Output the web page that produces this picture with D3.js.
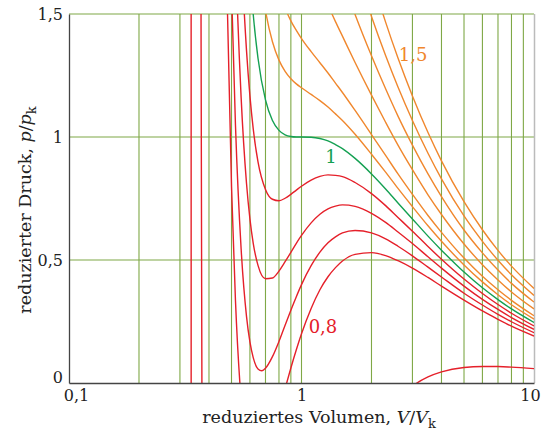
<!DOCTYPE html>
<html>
<head>
<meta charset="utf-8">
<script src="https://cdn.jsdelivr.net/npm/d3@7"></script>
<style>
  body { margin: 0; background: #fff; }
  text { font-family: "DejaVu Serif", serif; fill: #222; }
</style>
</head>
<body>
<div id="chart"></div>
<script>
// van-der-Waals isotherms: [V/Vk, p/pk]
const iso002 = [[0.33520, 1.6], [0.33531, 0], [0.33540, -0.2]]
const iso032a = [[0.368, 2.46], [0.370, 1.36], [0.372, 0.39], [0.375, -0.85]]
const iso032b = [[2.6, -0.068], [3.0, -0.013], [3.5, 0.0245], [4, 0.045], [5, 0.063], [6, 0.067], [7, 0.0668], [8, 0.0644], [10, 0.0583]]
const iso080 = [[0.46, 2.664], [0.48, 1.524], [0.50, 0.8], [0.52, 0.334], [0.55, -0.071], [0.58, -0.269], [0.60, -0.333], [0.62, -0.362], [0.65, -0.364], [0.70, -0.304], [0.75, -0.213], [0.80, -0.116], [0.85, -0.023], [0.90, 0.061], [0.95, 0.135], [1.0, 0.2], [1.1, 0.303], [1.2, 0.379], [1.3, 0.432], [1.4, 0.469], [1.5, 0.496], [1.7, 0.523], [2.0, 0.53], [2.3, 0.518], [2.6, 0.497], [3.0, 0.467], [3.5, 0.429], [4, 0.394], [5, 0.337], [6, 0.293], [7, 0.259], [8, 0.231], [10, 0.191]]
const iso085 = [[0.48, 2.434], [0.50, 1.6], [0.52, 1.048], [0.55, 0.545], [0.58, 0.271], [0.60, 0.167], [0.62, 0.103], [0.65, 0.057], [0.675, 0.050], [0.70, 0.060], [0.75, 0.107], [0.80, 0.169], [0.85, 0.235], [0.90, 0.296], [0.95, 0.351], [1.0, 0.4], [1.1, 0.477], [1.2, 0.532], [1.3, 0.570], [1.4, 0.594], [1.5, 0.610], [1.7, 0.620], [2.0, 0.61], [2.3, 0.586], [2.6, 0.556], [3.0, 0.517], [3.5, 0.471], [4, 0.431], [5, 0.365], [6, 0.317], [7, 0.279], [8, 0.249], [10, 0.2045]]
const iso090 = [[0.50, 2.4], [0.52, 1.762], [0.55, 1.160], [0.58, 0.812], [0.60, 0.667], [0.62, 0.568], [0.65, 0.478], [0.70, 0.424], [0.75, 0.427], [0.80, 0.455], [0.85, 0.493], [0.90, 0.531], [0.95, 0.568], [1.0, 0.6], [1.1, 0.651], [1.2, 0.686], [1.3, 0.708], [1.4, 0.719], [1.5, 0.724], [1.7, 0.718], [2.0, 0.69], [2.3, 0.653], [2.6, 0.614], [3.0, 0.567], [3.5, 0.513], [4, 0.467], [5, 0.394], [6, 0.340], [7, 0.299], [8, 0.266], [10, 0.218]]
const iso095 = [[0.52, 2.476], [0.55, 1.775], [0.58, 1.352], [0.60, 1.167], [0.62, 1.033], [0.65, 0.899], [0.70, 0.787], [0.75, 0.747], [0.80, 0.741], [0.85, 0.751], [0.90, 0.767], [0.95, 0.784], [1.0, 0.8], [1.1, 0.825], [1.2, 0.840], [1.3, 0.846], [1.4, 0.844], [1.5, 0.839], [1.7, 0.815], [2.0, 0.77], [2.3, 0.721], [2.6, 0.673], [3.0, 0.617], [3.5, 0.555], [4, 0.503], [5, 0.4225], [6, 0.364], [7, 0.319], [8, 0.2835], [10, 0.232]]
const iso100 = [[0.55, 2.391], [0.58, 1.893], [0.60, 1.667], [0.62, 1.498], [0.65, 1.320], [0.70, 1.151], [0.75, 1.067], [0.80, 1.027], [0.85, 1.009], [0.90, 1.002], [0.95, 1.000], [1.0, 1.000], [1.1, 0.999], [1.2, 0.994], [1.3, 0.984], [1.4, 0.969], [1.5, 0.953], [1.7, 0.913], [2.0, 0.85], [2.3, 0.789], [2.6, 0.732], [3.0, 0.667], [3.5, 0.597], [4, 0.540], [5, 0.451], [6, 0.387], [7, 0.339], [8, 0.301], [10, 0.246]]
const iso105 = [[0.65, 1.741], [0.70, 1.514], [0.75, 1.387], [0.80, 1.3125], [0.85, 1.267], [0.90, 1.237], [0.95, 1.216], [1.0, 1.2], [1.1, 1.173], [1.2, 1.148], [1.3, 1.122], [1.4, 1.094], [1.5, 1.067], [1.7, 1.011], [2.0, 0.93], [2.3, 0.857], [2.6, 0.791], [3.0, 0.717], [3.5, 0.639], [4, 0.576], [5, 0.480], [6, 0.411], [7, 0.359], [8, 0.318], [10, 0.260]]
const iso110 = [[0.75, 1.707], [0.80, 1.598], [0.85, 1.525], [0.90, 1.472], [0.95, 1.433], [1.0, 1.4], [1.1, 1.347], [1.2, 1.302], [1.3, 1.260], [1.4, 1.219], [1.5, 1.181], [1.7, 1.108], [2.0, 1.01], [2.3, 0.925], [2.6, 0.850], [3.0, 0.767], [3.5, 0.681], [4, 0.6125], [5, 0.508], [6, 0.434], [7, 0.379], [8, 0.336], [10, 0.2735]]
const iso120 = [[1.1, 1.695], [1.2, 1.609], [1.3, 1.536], [1.4, 1.469], [1.5, 1.410], [1.7, 1.303], [2.0, 1.17], [2.3, 1.060], [2.6, 0.967], [3.0, 0.867], [3.5, 0.765], [4, 0.685], [5, 0.565], [6, 0.481], [7, 0.419], [8, 0.370], [10, 0.301]]
const iso130 = [[1.4, 1.719], [1.5, 1.639], [1.7, 1.498], [2.0, 1.33], [2.3, 1.196], [2.6, 1.085], [3.0, 0.967], [3.5, 0.850], [4, 0.758], [5, 0.622], [6, 0.529], [7, 0.459], [8, 0.405], [10, 0.329]]
const iso140 = [[1.7, 1.693], [2.0, 1.49], [2.3, 1.331], [2.6, 1.203], [3.0, 1.067], [3.5, 0.934], [4, 0.830], [5, 0.679], [6, 0.576], [7, 0.499], [8, 0.440], [10, 0.356]]
const iso150 = [[2.0, 1.65], [2.3, 1.467], [2.6, 1.321], [3.0, 1.167], [3.5, 1.018], [4, 0.903], [5, 0.737], [6, 0.623], [7, 0.539], [8, 0.475], [10, 0.384]]

// ticks and grid
const xTicks = [0.1, 1, 10]
const xTickLabels = ["0,1", "1", "10"]
const yTicks = [0, 0.5, 1, 1.5]
const yTickLabels = ["0", "0,5", "1", "1,5"]
const xGrid = [0.2, 0.3, 0.4, 0.5, 0.6, 0.7, 0.8, 0.9, 1, 2, 3, 4, 5, 6, 7, 8, 9]
const yGrid = [0.5, 1, 1.5]

// curve labels (position = baseline centre)
const curveLabels = [
  {text: "1,5", v: 3.02, p: 1.31, kind: "hot"},
  {text: "1", v: 1.34, p: 0.894, kind: "crit"},
  {text: "0,8", v: 1.237, p: 0.203, kind: "cold"}
]

const colors = {cold: "#e5202a", crit: "#14a052", hot: "#f0872d"}

const series = [
  {pts: iso002, kind: "cold"}, {pts: iso032a, kind: "cold"}, {pts: iso032b, kind: "cold"},
  {pts: iso080, kind: "cold"}, {pts: iso085, kind: "cold"}, {pts: iso090, kind: "cold"},
  {pts: iso095, kind: "cold"}, {pts: iso105, kind: "hot"}, {pts: iso110, kind: "hot"},
  {pts: iso120, kind: "hot"}, {pts: iso130, kind: "hot"}, {pts: iso140, kind: "hot"},
  {pts: iso150, kind: "hot"}, {pts: iso100, kind: "crit"}
]

// dimensions
const width = 541, height = 432
const plot = {left: 69, right: 534, top: 14, bottom: 383}

const x = d3.scaleLog().domain([0.1, 10]).range([plot.left, plot.right])
const y = d3.scaleLinear().domain([0, 1.5]).range([plot.bottom, plot.top])

const svg = d3.select("#chart").append("svg")
  .attr("width", width)
  .attr("height", height)

svg.append("defs").append("clipPath").attr("id", "plotClip")
  .append("rect")
  .attr("x", plot.left).attr("y", plot.top)
  .attr("width", plot.right - plot.left).attr("height", plot.bottom - plot.top)

// grid
const gridColor = "#7fa846"
svg.append("g").selectAll("line")
  .data(xGrid)
  .join("line")
  .attr("x1", d => x(d)).attr("x2", d => x(d))
  .attr("y1", plot.top).attr("y2", plot.bottom)
  .attr("stroke", gridColor)
  .attr("stroke-width", 1.1)

svg.append("g").selectAll("line")
  .data(yGrid)
  .join("line")
  .attr("x1", plot.left).attr("x2", plot.right)
  .attr("y1", d => y(d)).attr("y2", d => y(d))
  .attr("stroke", gridColor)
  .attr("stroke-width", 1.1)

// right border
svg.append("line")
  .attr("x1", plot.right + 0.5).attr("x2", plot.right + 0.5)
  .attr("y1", plot.top).attr("y2", plot.bottom)
  .attr("stroke", "#bbbbbb")
  .attr("stroke-width", 1.5)

// isotherms
const line = d3.line()
  .x(d => x(d[0]))
  .y(d => y(d[1]))
  .curve(d3.curveMonotoneX)

svg.append("g")
  .attr("clip-path", "url(#plotClip)")
  .selectAll("path")
  .data(series)
  .join("path")
  .attr("d", d => line(d.pts))
  .attr("fill", "none")
  .attr("stroke", d => colors[d.kind])
  .attr("stroke-width", 1.4)

// axes (no tick marks, just domain + labels)
const xAxis = d3.axisBottom(x)
  .tickValues(xTicks)
  .tickSize(0)
  .tickPadding(7)
  .tickFormat((d, i) => xTickLabels[i])

svg.append("g")
  .attr("transform", `translate(0, ${plot.bottom})`)
  .call(xAxis)
  .call(g => g.select(".domain").attr("stroke", "#444").attr("stroke-width", 1.3))
  .call(g => g.selectAll(".tick text")
    .attr("font-size", 16)
    .attr("font-family", "DejaVu Serif")
    .attr("fill", "#222")
    .attr("dx", (d, i) => i == 0 ? 7 : i == 2 ? -4 : 0))

const yAxis = d3.axisLeft(y)
  .tickValues(yTicks)
  .tickSize(0)
  .tickPadding(6)
  .tickFormat((d, i) => yTickLabels[i])

svg.append("g")
  .attr("transform", `translate(${plot.left}, 0)`)
  .call(yAxis)
  .call(g => g.select(".domain").attr("stroke", "#444").attr("stroke-width", 1.3))
  .call(g => g.selectAll(".tick text")
    .attr("font-size", 16)
    .attr("font-family", "DejaVu Serif")
    .attr("fill", "#222")
    .attr("dy", d => d === 0 ? "-0.05em" : "0.32em"))

// axis titles
const xTitle = svg.append("text")
  .attr("x", 319)
  .attr("y", 423)
  .attr("text-anchor", "middle")
  .attr("font-size", 17.5)
xTitle.append("tspan").text("reduziertes Volumen, ")
xTitle.append("tspan").attr("font-style", "italic").text("V")
xTitle.append("tspan").text("/")
xTitle.append("tspan").attr("font-style", "italic").text("V")
xTitle.append("tspan").attr("font-size", 13).attr("dy", 5).text("k")

const yTitle = svg.append("text")
  .attr("transform", "translate(31, 210) rotate(-90)")
  .attr("text-anchor", "middle")
  .attr("font-size", 17.5)
yTitle.append("tspan").text("reduzierter Druck, ")
yTitle.append("tspan").attr("font-style", "italic").text("p")
yTitle.append("tspan").text("/")
yTitle.append("tspan").attr("font-style", "italic").text("p")
yTitle.append("tspan").attr("font-size", 13).attr("dy", 5).text("k")

// curve labels
svg.append("g").selectAll("text")
  .data(curveLabels)
  .join("text")
  .attr("x", d => x(d.v))
  .attr("y", d => y(d.p))
  .attr("text-anchor", "middle")
  .attr("font-size", 18)
  .style("fill", d => colors[d.kind])
  .text(d => d.text)
</script>
</body>
</html>
